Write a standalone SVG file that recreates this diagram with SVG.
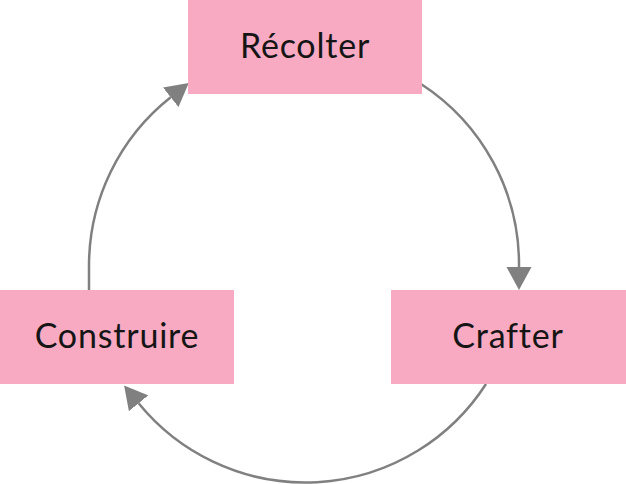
<svg xmlns="http://www.w3.org/2000/svg" width="626" height="484" viewBox="0 0 626 484">
<style>
.box{fill:#f8aac3}
.lbl{font-family:Lato,"Noto Sans",sans-serif;font-size:34px;font-weight:400;letter-spacing:0.8px;fill:#151515;text-anchor:middle}
.edge{fill:none;stroke:#808080;stroke-width:2.5}
</style>
<defs>
<marker id="arr" markerUnits="userSpaceOnUse" markerWidth="24" markerHeight="26" refX="0" refY="12.5" orient="auto" viewBox="0 0 24 25">
<path d="M0,0 L23,12.5 L0,25 z" fill="#808080"/>
</marker>
</defs>
<g id="edges">
<path class="edge" d="M421,84 A215,215 0 0 1 519,266 L519,267" marker-end="url(#arr)"/>
<path class="edge" d="M486,384 A215,215 0 0 1 138.6,403.3" marker-end="url(#arr)"/>
<path class="edge" d="M89,290 L89,266 A215,215 0 0 1 170.7,97.3" marker-end="url(#arr)"/>
</g>
<g id="recolter"><rect class="box" x="188" y="0" width="234" height="94"/><text class="lbl" x="305" y="58">Récolter</text></g>
<g id="crafter"><rect class="box" x="391" y="290" width="235" height="94"/><text class="lbl" x="508" y="348">Crafter</text></g>
<g id="construire"><rect class="box" x="0" y="290" width="234" height="94"/><text class="lbl" x="117" y="348">Construire</text></g>
</svg>
